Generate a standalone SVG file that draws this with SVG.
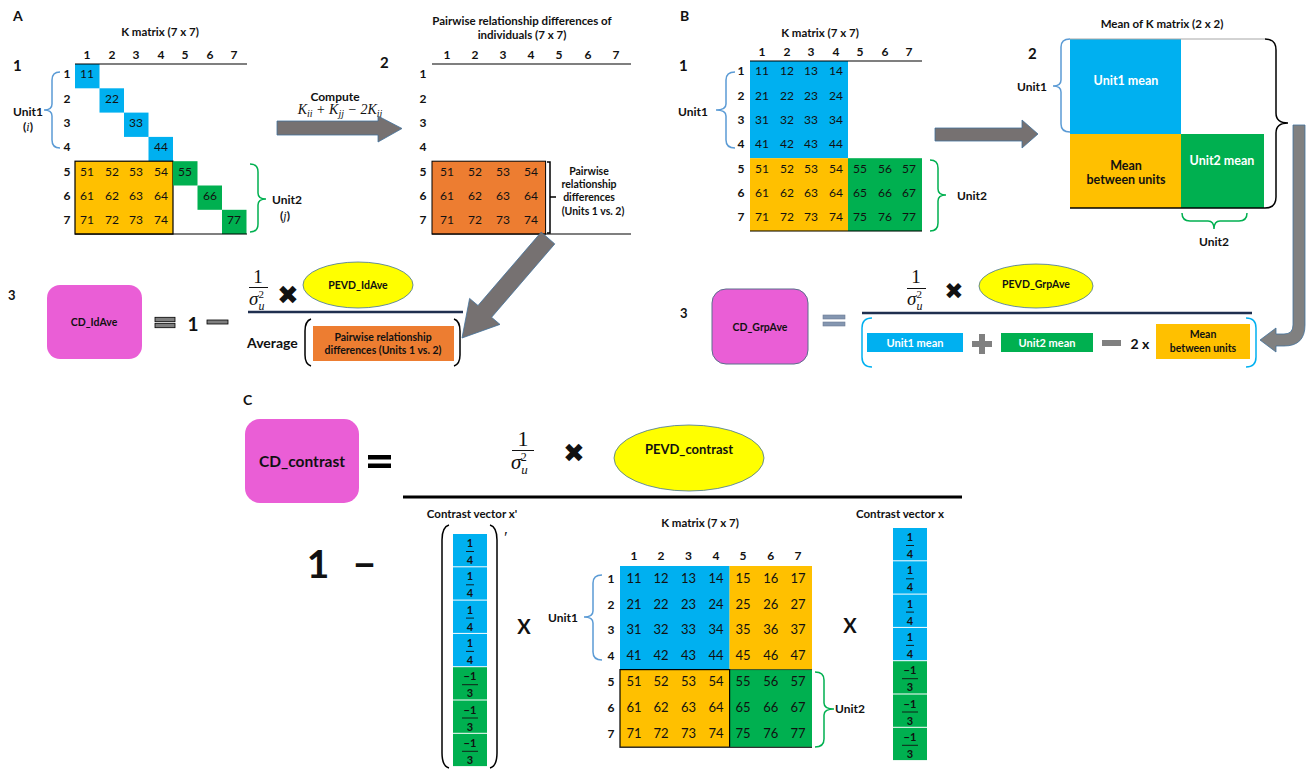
<svg xmlns="http://www.w3.org/2000/svg" width="1314" height="771" viewBox="0 0 1314 771">
<style>
text{font-family:Lato,"Liberation Sans",sans-serif;fill:#111}
.c{text-anchor:middle}
.b{font-weight:bold}
.n{font-size:12px;text-anchor:middle;fill:#222}
.nc{font-size:13px;text-anchor:middle;fill:#222}
.h{font-size:12px;font-weight:bold;text-anchor:middle}
.ttl{font-size:11.5px;font-weight:bold;text-anchor:middle}
.sm{font-size:10.5px;font-weight:bold;text-anchor:middle}
.sec{font-size:15px;font-weight:bold}
.pl{font-size:14px;font-weight:bold}
.m{font-family:"Liberation Serif","DejaVu Serif",serif}
.brb{fill:none;stroke:#5B9BD5;stroke-width:1.5}
.brg{fill:none;stroke:#00B050;stroke-width:1.5}
.blk{fill:none;stroke:#000;stroke-width:1.5}
.blue{fill:#00B0F0}
.yel{fill:#FFC000}
.grn{fill:#00B050}
.org{fill:#ED7D31}
.mag{fill:#EA5ED6}
.ell{fill:#FFFF00;stroke:#41719C;stroke-width:0.8}
.garrow{fill:#767171;stroke:#41719C;stroke-width:0.8}
.gbar{fill:#7F7F7F;stroke:#000;stroke-width:0.8}
.fr{font-family:"Liberation Serif","DejaVu Serif",serif;font-weight:bold;font-size:11px;text-anchor:middle;fill:#111}
.wt{fill:#fff;font-weight:bold;text-anchor:middle}
.ln{stroke:#000;stroke-width:1.2}
.x{font-family:"DejaVu Sans",sans-serif;text-anchor:middle}
</style>

<!-- ================= PANEL A ================= -->
<g id="panelA-labels">
<text x="13" y="21" class="pl">A</text>
<text x="13" y="71" class="sec">1</text>
<text x="380" y="68" class="sec">2</text>
<text x="8" y="300" font-size="13" class="b">3</text>
</g>

<g id="A-kmatrix">
<text x="160" y="36" class="ttl">K matrix (7 x 7)</text>
<g class="h">
<text x="87" y="59">1</text><text x="112" y="59">2</text><text x="136" y="59">3</text><text x="161" y="59">4</text><text x="185" y="59">5</text><text x="210" y="59">6</text><text x="234" y="59">7</text>
<text x="67" y="78">1</text><text x="67" y="103">2</text><text x="67" y="127">3</text><text x="67" y="151">4</text><text x="67" y="176">5</text><text x="67" y="200">6</text><text x="67" y="224">7</text>
</g>
<rect class="blue" x="75" y="64" width="24.5" height="24.3"/>
<rect class="blue" x="99.5" y="88.3" width="24.5" height="24.3"/>
<rect class="blue" x="124" y="112.6" width="24.5" height="24.3"/>
<rect class="blue" x="148.5" y="136.9" width="24.5" height="24.3"/>
<rect class="yel" x="75" y="161.2" width="98" height="72.9" stroke="#000" stroke-width="1.2"/>
<rect class="grn" x="173" y="161.2" width="24.5" height="24.3"/>
<rect class="grn" x="197.5" y="185.5" width="24.5" height="24.3"/>
<rect class="grn" x="222" y="209.8" width="24.5" height="24.3"/>
<line class="ln" x1="75" y1="64" x2="247" y2="64"/>
<line class="ln" x1="75" y1="234" x2="247" y2="234"/>
<g class="n">
<text x="87" y="78">11</text><text x="112" y="103">22</text><text x="136" y="127">33</text><text x="161" y="151">44</text>
<text x="87" y="176">51</text><text x="112" y="176">52</text><text x="136" y="176">53</text><text x="161" y="176">54</text><text x="185" y="176">55</text>
<text x="87" y="200">61</text><text x="112" y="200">62</text><text x="136" y="200">63</text><text x="161" y="200">64</text><text x="210" y="200">66</text>
<text x="87" y="224">71</text><text x="112" y="224">72</text><text x="136" y="224">73</text><text x="161" y="224">74</text><text x="234" y="224">77</text>
</g>
<path class="brb" d="M60,72 Q52,72 52,80 L52,104 Q52,110 44,110 Q52,110 52,116 L52,140 Q52,148 60,148"/>
<text x="28" y="116" class="h">Unit1</text>
<text x="28" y="131" class="h">(<tspan class="m" font-style="italic" font-weight="normal">i</tspan>)</text>
<path class="brg" d="M250,164 Q258,164 258,172 L258,193 Q258,199 266,199 Q258,199 258,205 L258,224 Q258,232 250,232"/>
<text x="272" y="204" font-size="12" class="b">Unit2</text>
<text x="285" y="220" class="h">(<tspan class="m" font-style="italic" font-weight="normal">j</tspan>)</text>
</g>

<g id="A-compute-label">
<text x="335" y="101" class="h">Compute</text>
<text x="340" y="114" class="m" font-style="italic" font-size="14" text-anchor="middle">K<tspan font-size="10" dy="3">ii</tspan><tspan dy="-3"> + K</tspan><tspan font-size="10" dy="3">jj</tspan><tspan dy="-3">  − 2K</tspan><tspan font-size="10" dy="3">ij</tspan></text>
</g>

<g id="A-pairwise-matrix">
<text x="522" y="25" class="ttl">Pairwise relationship differences of</text>
<text x="522" y="39" class="ttl">individuals (7 x 7)</text>
<g class="h">
<text x="447" y="59">1</text><text x="475" y="59">2</text><text x="503" y="59">3</text><text x="531" y="59">4</text><text x="559" y="59">5</text><text x="588" y="59">6</text><text x="616" y="59">7</text>
<text x="423" y="78">1</text><text x="423" y="103">2</text><text x="423" y="127">3</text><text x="423" y="151">4</text><text x="423" y="176">5</text><text x="423" y="200">6</text><text x="423" y="224">7</text>
</g>
<line class="ln" x1="432" y1="64" x2="631" y2="64"/>
<rect class="org" x="432" y="161.2" width="113.6" height="72.9" stroke="#000" stroke-width="1"/>
<line class="ln" x1="432" y1="234" x2="631" y2="234"/>
<g class="n">
<text x="447" y="176">51</text><text x="475" y="176">52</text><text x="503" y="176">53</text><text x="531" y="176">54</text>
<text x="447" y="200">61</text><text x="475" y="200">62</text><text x="503" y="200">63</text><text x="531" y="200">64</text>
<text x="447" y="224">71</text><text x="475" y="224">72</text><text x="503" y="224">73</text><text x="531" y="224">74</text>
</g>
<path class="blk" stroke-width="1.2" d="M547,162 L550,162 L550,233 L547,233 M550,197 L556,197"/>
<g class="sm">
<text x="589" y="175">Pairwise</text>
<text x="589" y="188">relationship</text>
<text x="589" y="201">differences</text>
<text x="593" y="215">(Units 1 vs. 2)</text>
</g>
</g>

<g id="A-cd-idave">
<rect class="mag" x="47" y="285" width="95" height="74" rx="13"/>
<text x="94" y="326" class="sm" font-size="11">CD_IdAve</text>
</g>

<g id="A-equation">
<rect class="gbar" x="155" y="317.3" width="20" height="4.4"/>
<rect class="gbar" x="155" y="323.3" width="20" height="4.4"/>
<text x="193" y="331" class="c b" font-size="19">1</text>
<rect class="gbar" x="207" y="320" width="21" height="4"/>
<text x="258" y="283" class="m c" font-size="19">1</text>
<line x1="249" y1="287.5" x2="268" y2="287.5" stroke="#111" stroke-width="1"/>
<text x="249" y="305" class="m" font-size="19" font-style="italic">σ<tspan font-size="12" dy="5">u</tspan><tspan font-size="11" font-style="normal" dx="-6" dy="-12">2</tspan></text>
<text x="288" y="304" class="x" font-size="26">✖</text>
<line x1="248" y1="312" x2="463" y2="312" stroke="#1F2F4F" stroke-width="2.5"/>
<text x="247" y="348" font-size="14" class="b">Average</text>
<path class="blk" d="M311,319 Q305,321 305,331 L305,355 Q305,364 311,366"/>
<path class="blk" d="M454,319 Q460,321 460,331 L460,355 Q460,364 454,366"/>
</g>
<g id="A-pevd-idave">
<ellipse class="ell" cx="358" cy="285" rx="55" ry="23"/>
<text x="358" y="289" class="sm" font-size="11">PEVD_IdAve</text>
</g>
<g id="A-pairwise-box">
<rect class="org" x="313" y="326" width="141" height="35"/>
<text x="383" y="341" class="sm">Pairwise relationship</text>
<text x="383" y="354" class="sm">differences (Units 1 vs. 2)</text>
</g>

<!-- ================= PANEL B ================= -->
<g id="panelB-labels">
<text x="680" y="21" class="pl">B</text>
<text x="679" y="71" class="sec">1</text>
<text x="1028" y="59" class="sec">2</text>
<text x="680" y="318" font-size="13" class="b">3</text>
</g>

<g id="B-kmatrix">
<text x="820" y="37" class="ttl">K matrix (7 x 7)</text>
<rect class="blue" x="750" y="61" width="98" height="97.2"/>
<rect class="yel" x="750" y="158.2" width="98" height="72.9"/>
<rect class="grn" x="848" y="158.2" width="74" height="72.9"/>
<line class="ln" x1="750" y1="61" x2="922" y2="61"/>
<line class="ln" x1="750" y1="231" x2="922" y2="231"/>
<g class="h">
<text x="762" y="56">1</text><text x="787" y="56">2</text><text x="811" y="56">3</text><text x="836" y="56">4</text><text x="860" y="56">5</text><text x="885" y="56">6</text><text x="909" y="56">7</text>
<text x="741" y="75">1</text><text x="741" y="100">2</text><text x="741" y="124">3</text><text x="741" y="148">4</text><text x="741" y="173">5</text><text x="741" y="197">6</text><text x="741" y="221">7</text>
</g>
<g class="n">
<text x="762" y="75">11</text><text x="787" y="75">12</text><text x="811" y="75">13</text><text x="836" y="75">14</text>
<text x="762" y="100">21</text><text x="787" y="100">22</text><text x="811" y="100">23</text><text x="836" y="100">24</text>
<text x="762" y="124">31</text><text x="787" y="124">32</text><text x="811" y="124">33</text><text x="836" y="124">34</text>
<text x="762" y="148">41</text><text x="787" y="148">42</text><text x="811" y="148">43</text><text x="836" y="148">44</text>
<text x="762" y="173">51</text><text x="787" y="173">52</text><text x="811" y="173">53</text><text x="836" y="173">54</text><text x="860" y="173">55</text><text x="885" y="173">56</text><text x="909" y="173">57</text>
<text x="762" y="197">61</text><text x="787" y="197">62</text><text x="811" y="197">63</text><text x="836" y="197">64</text><text x="860" y="197">65</text><text x="885" y="197">66</text><text x="909" y="197">67</text>
<text x="762" y="221">71</text><text x="787" y="221">72</text><text x="811" y="221">73</text><text x="836" y="221">74</text><text x="860" y="221">75</text><text x="885" y="221">76</text><text x="909" y="221">77</text>
</g>
<path class="brb" d="M735,72 Q726,72 726,80 L726,104 Q726,110 716,110 Q726,110 726,116 L726,140 Q726,148 735,148"/>
<text x="693" y="116" class="h">Unit1</text>
<path class="brg" d="M930,160 Q938,160 938,168 L938,189 Q938,195 946,195 Q938,195 938,201 L938,223 Q938,231 930,231"/>
<text x="957" y="200" font-size="12" class="b">Unit2</text>
</g>

<g id="B-mean-matrix">
<text x="1162" y="28" class="ttl" font-size="12">Mean of K matrix (2 x 2)</text>
<rect class="blue" x="1070" y="39" width="111" height="95"/>
<rect class="yel" x="1070" y="134" width="111" height="74"/>
<rect class="grn" x="1181" y="134" width="83" height="74"/>
<line x1="1070" y1="39" x2="1265" y2="39" stroke="#A6A6A6" stroke-width="1"/>
<line x1="1070" y1="208" x2="1265" y2="208" stroke="#000" stroke-width="1.5"/>
<text x="1126" y="85" class="wt" font-size="12.5">Unit1 mean</text>
<text x="1126" y="170" font-size="12.5" class="c b">Mean</text>
<text x="1126" y="184" font-size="12.5" class="c b">between units</text>
<text x="1222" y="165" class="wt" font-size="12.5">Unit2 mean</text>
<path class="brb" d="M1070,39 Q1061,39 1061,47 L1061,80 Q1061,86 1053,86 Q1061,86 1061,92 L1061,124 Q1061,132 1070,132"/>
<text x="1032" y="91" class="h">Unit1</text>
<path class="blk" d="M1265,39 Q1276,39 1276,50 L1276,113 Q1276,123 1288,123 Q1276,123 1276,133 L1276,197 Q1276,208 1265,208"/>
<path class="brg" d="M1182,213 Q1182,221 1190,221 L1208,221 Q1214,221 1214,229 Q1214,221 1220,221 L1239,221 Q1247,221 1247,213"/>
<text x="1214" y="246" class="h">Unit2</text>
</g>

<g id="B-cd-grpave">
<rect class="mag" x="712" y="289" width="96" height="75" rx="14" stroke="#5A6E8C" stroke-width="1"/>
<text x="760" y="331" class="sm" font-size="11">CD_GrpAve</text>
</g>
<g id="B-equation">
<rect x="823" y="315" width="22" height="4" fill="#8496B0" stroke="#6B7B94" stroke-width="0.6"/>
<rect x="823" y="322" width="22" height="4" fill="#8496B0" stroke="#6B7B94" stroke-width="0.6"/>
<text x="916" y="283" class="m c" font-size="19">1</text>
<line x1="907" y1="288.5" x2="926" y2="288.5" stroke="#111" stroke-width="1"/>
<text x="907" y="305" class="m" font-size="19" font-style="italic">σ<tspan font-size="12" dy="5">u</tspan><tspan font-size="11" font-style="normal" dx="-6" dy="-12">2</tspan></text>
<text x="954" y="299" class="x" font-size="23">✖</text>
<line x1="862" y1="313" x2="1252" y2="313" stroke="#1F2F4F" stroke-width="2.5"/>
<path fill="none" stroke="#00B0F0" stroke-width="1.5" d="M872,318 Q862,318 862,328 L862,357 Q862,367 872,367"/>
<path fill="none" stroke="#00B0F0" stroke-width="1.5" d="M1246,318 Q1256,318 1256,328 L1256,357 Q1256,367 1246,367"/>
<path fill="#808080" d="M979,334 h6 v7 h7 v6 h-7 v7 h-6 v-7 h-7 v-6 h7 z"/>
<rect x="1102" y="340" width="19" height="6" fill="#808080"/>
<text x="1140" y="349" font-size="14" class="c b">2 x</text>
</g>
<g id="B-pevd-grpave">
<ellipse class="ell" cx="1036" cy="286" rx="57" ry="22"/>
<text x="1036" y="288" class="sm" font-size="11">PEVD_GrpAve</text>
</g>
<g id="B-unit1-mean">
<rect class="blue" x="867" y="333" width="96" height="19"/>
<text x="915" y="347" class="wt" font-size="11">Unit1 mean</text>
</g>
<g id="B-unit2-mean">
<rect class="grn" x="1001" y="333" width="92" height="19"/>
<text x="1047" y="347" class="wt" font-size="11">Unit2 mean</text>
</g>
<g id="B-between">
<rect class="yel" x="1156" y="324" width="94" height="35"/>
<text x="1203" y="338" class="sm" font-size="11">Mean</text>
<text x="1203" y="352" class="sm" font-size="11">between units</text>
</g>

<!-- ================= PANEL C ================= -->
<g id="panelC-labels">
<text x="243" y="405" class="pl">C</text>
</g>
<g id="C-cd-contrast">
<rect class="mag" x="245" y="419" width="114" height="84" rx="15"/>
<text x="302" y="467" font-size="15.5" class="c b">CD_contrast</text>
</g>
<g id="C-equation">
<rect x="368" y="455" width="23" height="4.5" fill="#000"/>
<rect x="368" y="463.5" width="23" height="4.5" fill="#000"/>
<text x="523" y="446" class="m c" font-size="22">1</text>
<line x1="512" y1="450.5" x2="534" y2="450.5" stroke="#111" stroke-width="1"/>
<text x="511" y="469" class="m" font-size="21" font-style="italic">σ<tspan font-size="13" dy="5">u</tspan><tspan font-size="12" font-style="normal" dx="-7" dy="-13">2</tspan></text>
<text x="574" y="462" class="x" font-size="26">✖</text>
<line x1="403" y1="497" x2="962" y2="497" stroke="#000" stroke-width="3"/>
<text x="318" y="578" font-size="39" class="c b">1</text>
<text x="352" y="578" font-size="42" class="b" textLength="25" lengthAdjust="spacingAndGlyphs">–</text>
<text x="524" y="634" font-size="20" class="c b">X</text>
<text x="850" y="633" font-size="20" class="c b">X</text>
</g>
<g id="C-pevd-contrast">
<ellipse class="ell" cx="689" cy="458" rx="75" ry="33"/>
<text x="689" y="454" class="c b" font-size="13">PEVD_contrast</text>
</g>

<g id="C-vector-xprime">
<text x="472" y="518" class="ttl">Contrast vector x'</text>
<path class="blk" stroke-width="2" d="M449,525 Q442,527 442,540 L442,753 Q442,766 449,768"/>
<path class="blk" stroke-width="2" d="M490,525 Q497,527 497,540 L497,753 Q497,766 490,768"/>
<text x="503" y="543" class="m" font-size="17" font-style="italic">′</text>
<rect class="blue" x="453" y="534" width="34" height="32.3"/>
<rect class="blue" x="453" y="567.3" width="34" height="32.3"/>
<rect class="blue" x="453" y="600.6" width="34" height="32.3"/>
<rect class="blue" x="453" y="633.9" width="34" height="32.3"/>
<rect class="grn" x="453" y="667.2" width="34" height="32.3"/>
<rect class="grn" x="453" y="700.5" width="34" height="32.3"/>
<rect class="grn" x="453" y="733.8" width="34" height="32.3"/>
<g class="fr">
<text x="470" y="547">1</text><text x="470" y="564">4</text>
<text x="470" y="580.3">1</text><text x="470" y="597.3">4</text>
<text x="470" y="613.6">1</text><text x="470" y="630.6">4</text>
<text x="470" y="646.9">1</text><text x="470" y="663.9">4</text>
<text x="470" y="680.2">−1</text><text x="470" y="697.2">3</text>
<text x="470" y="713.5">−1</text><text x="470" y="730.5">3</text>
<text x="470" y="746.8">−1</text><text x="470" y="763.8">3</text>
</g>
<g stroke="#111" stroke-width="0.9">
<line x1="466" y1="551.5" x2="474" y2="551.5"/>
<line x1="466" y1="584.8" x2="474" y2="584.8"/>
<line x1="466" y1="618.1" x2="474" y2="618.1"/>
<line x1="466" y1="651.4" x2="474" y2="651.4"/>
<line x1="462" y1="684.7" x2="478" y2="684.7"/>
<line x1="462" y1="718" x2="478" y2="718"/>
<line x1="462" y1="751.3" x2="478" y2="751.3"/>
</g>
</g>

<g id="C-kmatrix">
<text x="700" y="527" class="ttl">K matrix (7 x 7)</text>
<rect class="blue" x="620" y="566" width="109.6" height="103.6"/>
<rect class="yel" x="729.6" y="566" width="82.4" height="103.6"/>
<rect class="grn" x="729.6" y="669.6" width="82.4" height="77.7"/>
<rect class="yel" x="620" y="669.6" width="109.6" height="77.7" stroke="#000" stroke-width="1.2"/>
<line x1="729.6" y1="669.6" x2="812" y2="669.6" stroke="#000" stroke-width="0.6"/>
<line x1="620" y1="747.3" x2="812" y2="747.3" stroke="#333" stroke-width="1.2"/>
<g class="h" font-size="12.5">
<text x="634" y="560">1</text><text x="661" y="560">2</text><text x="688.5" y="560">3</text><text x="716" y="560">4</text><text x="743" y="560">5</text><text x="770.7" y="560">6</text><text x="798" y="560">7</text>
<text x="611" y="582.5">1</text><text x="611" y="608.5">2</text><text x="611" y="633.5">3</text><text x="611" y="659.5">4</text><text x="611" y="685.5">5</text><text x="611" y="711.5">6</text><text x="611" y="737.5">7</text>
</g>
<g class="nc">
<text x="634" y="582.5">11</text><text x="661" y="582.5">12</text><text x="688.5" y="582.5">13</text><text x="716" y="582.5">14</text><text x="743" y="582.5">15</text><text x="770.7" y="582.5">16</text><text x="798" y="582.5">17</text>
<text x="634" y="608.5">21</text><text x="661" y="608.5">22</text><text x="688.5" y="608.5">23</text><text x="716" y="608.5">24</text><text x="743" y="608.5">25</text><text x="770.7" y="608.5">26</text><text x="798" y="608.5">27</text>
<text x="634" y="633.5">31</text><text x="661" y="633.5">32</text><text x="688.5" y="633.5">33</text><text x="716" y="633.5">34</text><text x="743" y="633.5">35</text><text x="770.7" y="633.5">36</text><text x="798" y="633.5">37</text>
<text x="634" y="659.5">41</text><text x="661" y="659.5">42</text><text x="688.5" y="659.5">43</text><text x="716" y="659.5">44</text><text x="743" y="659.5">45</text><text x="770.7" y="659.5">46</text><text x="798" y="659.5">47</text>
<text x="634" y="685.5">51</text><text x="661" y="685.5">52</text><text x="688.5" y="685.5">53</text><text x="716" y="685.5">54</text><text x="743" y="685.5">55</text><text x="770.7" y="685.5">56</text><text x="798" y="685.5">57</text>
<text x="634" y="711.5">61</text><text x="661" y="711.5">62</text><text x="688.5" y="711.5">63</text><text x="716" y="711.5">64</text><text x="743" y="711.5">65</text><text x="770.7" y="711.5">66</text><text x="798" y="711.5">67</text>
<text x="634" y="737.5">71</text><text x="661" y="737.5">72</text><text x="688.5" y="737.5">73</text><text x="716" y="737.5">74</text><text x="743" y="737.5">75</text><text x="770.7" y="737.5">76</text><text x="798" y="737.5">77</text>
</g>
<path class="brb" d="M602,575 Q593,575 593,583 L593,611 Q593,617 584,617 Q593,617 593,623 L593,652 Q593,660 602,660"/>
<text x="563" y="622" class="h">Unit1</text>
<path class="brg" d="M815,672 Q824,672 824,680 L824,703 Q824,709 834,709 Q824,709 824,715 L824,739 Q824,747 815,747"/>
<text x="835" y="713" font-size="12" class="b">Unit2</text>
</g>

<g id="C-vector-x">
<text x="900" y="518" class="ttl">Contrast vector x</text>
<rect class="blue" x="893" y="528" width="34" height="32.3"/>
<rect class="blue" x="893" y="561.3" width="34" height="32.3"/>
<rect class="blue" x="893" y="594.6" width="34" height="32.3"/>
<rect class="blue" x="893" y="627.9" width="34" height="32.3"/>
<rect class="grn" x="893" y="661.2" width="34" height="32.3"/>
<rect class="grn" x="893" y="694.5" width="34" height="32.3"/>
<rect class="grn" x="893" y="727.8" width="34" height="32.3"/>
<g class="fr">
<text x="910" y="541">1</text><text x="910" y="558">4</text>
<text x="910" y="574.3">1</text><text x="910" y="591.3">4</text>
<text x="910" y="607.6">1</text><text x="910" y="624.6">4</text>
<text x="910" y="640.9">1</text><text x="910" y="657.9">4</text>
<text x="910" y="674.2">−1</text><text x="910" y="691.2">3</text>
<text x="910" y="707.5">−1</text><text x="910" y="724.5">3</text>
<text x="910" y="740.8">−1</text><text x="910" y="757.8">3</text>
</g>
<g stroke="#111" stroke-width="0.9">
<line x1="906" y1="545.5" x2="914" y2="545.5"/>
<line x1="906" y1="578.8" x2="914" y2="578.8"/>
<line x1="906" y1="612.1" x2="914" y2="612.1"/>
<line x1="906" y1="645.4" x2="914" y2="645.4"/>
<line x1="902" y1="678.7" x2="918" y2="678.7"/>
<line x1="902" y1="712" x2="918" y2="712"/>
<line x1="902" y1="745.3" x2="918" y2="745.3"/>
</g>
</g>

<!-- ================= CONNECTORS ================= -->
<g id="connectors">
<polygon class="garrow" points="277,121 378,121 378,116 402,128.5 378,142 378,135 277,135"/>
<polygon class="garrow" points="554.8,243.9 491.6,317.3 500,324.4 462,338 469.6,298.4 478,305.5 541.2,232.1"/>
<polygon class="garrow" points="935,128 1022,128 1022,120 1038,134 1022,148 1022,141 935,141"/>
<path fill="#808080" stroke="#41719C" stroke-width="0.8" d="M1293,125 L1305,125 L1305,325 Q1305,346 1284,346 L1276,346 L1276,352 L1260,340 L1276,328 L1276,334 L1284,334 Q1293,334 1293,325 Z"/>
</g>
</svg>
